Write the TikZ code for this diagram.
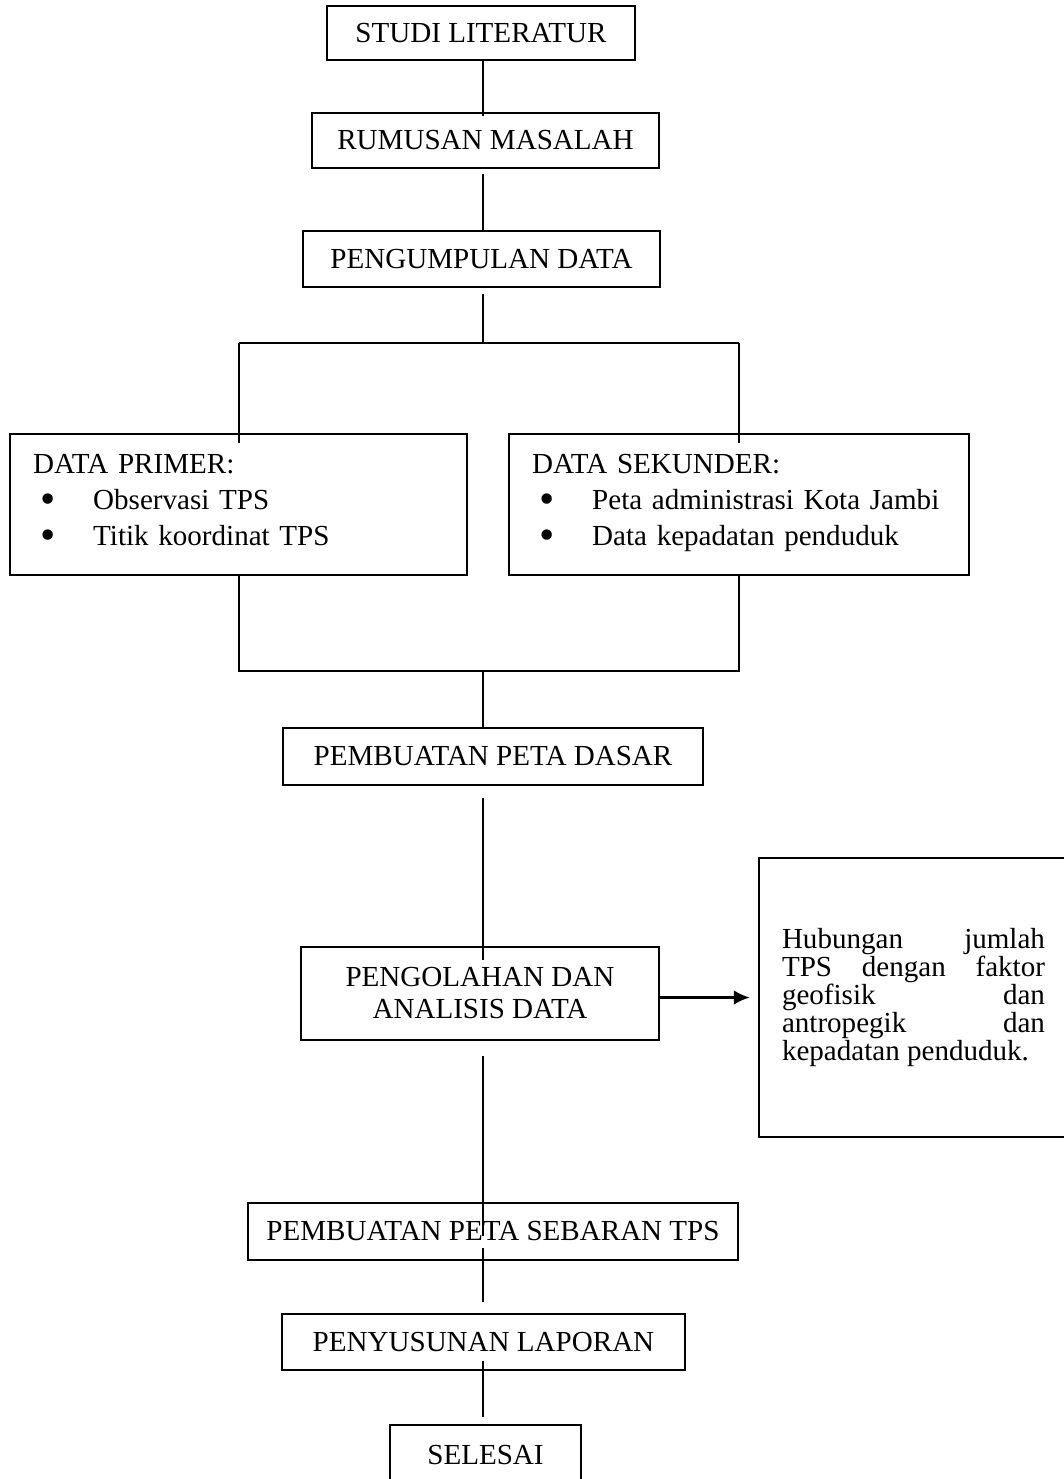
\documentclass[tikz,border=0pt]{standalone}
\usepackage{fontspec}
\setmainfont{Liberation Serif}
\usetikzlibrary{arrows.meta}
\newcommand{\tpsitem}[1]{\\\hspace*{5.5pt}\makebox[39.5pt][l]{\raisebox{-3pt}{\scalebox{1.5}{\textbullet}}}#1}
\tikzset{
  flowbox/.style={draw, line width=1.8pt, inner sep=0pt, align=center},
  databox/.style={draw, line width=1.8pt, anchor=north west, inner xsep=17.25pt, inner ysep=15pt,
    text width=308.25pt, align=left, text depth=61pt, font=\fontsize{21.8}{27}\selectfont},
  hasilbox/.style={draw, line width=1.8pt, text width=197.25pt, align=justify,
    font=\fontsize{21.8}{21}\selectfont},
  link/.style={line width=1.3pt},
}
\begin{document}
\begin{tikzpicture}[x=0.75pt, y=-0.75pt, font=\fontsize{21.8}{24}\selectfont]
    \useasboundingbox (0,0) rectangle (1064,1479);
    \coordinate (axis) at (483,0);
    \coordinate (split) at (483,343);
    \coordinate (join) at (483,671);
    % tahap awal
    \node[flowbox, minimum width=231pt, minimum height=40.5pt] (studi) at (481,33) {STUDI LITERATUR};
    \node[flowbox, minimum width=260.25pt, minimum height=41.25pt] (rumusan) at (485.5,140.5) {RUMUSAN MASALAH};
    \node[flowbox, minimum width=267.75pt, minimum height=42pt] (kumpul) at (481.5,259) {PENGUMPULAN DATA};
    % data
    \node[databox, minimum width=342.75pt] (primer) at (9,433)
        {DATA PRIMER:\tpsitem{Observasi TPS}\tpsitem{Titik koordinat TPS}};
    \node[databox, minimum width=345pt, text width=310.5pt] (sekunder) at (508,433)
        {DATA SEKUNDER:\tpsitem{Peta administrasi Kota Jambi}\tpsitem{Data kepadatan penduduk}};
    % pengolahan
    \node[flowbox, minimum width=315pt, minimum height=42.75pt] (dasar) at (493,756.5) {PEMBUATAN PETA DASAR};
    \node[flowbox, minimum width=268.5pt, minimum height=69.75pt] (olah) at (480,993.5) {PENGOLAHAN DAN\\ANALISIS DATA};
    \node[hasilbox, minimum width=231.75pt, minimum height=209.25pt] (hasil) at (913.5,997.5)
        {Hubungan jumlah\linebreak TPS dengan faktor\linebreak geofisik dan\linebreak antropegik dan\linebreak kepadatan penduduk.};
    % tahap akhir
    \node[flowbox, minimum width=367.5pt, minimum height=42.75pt] (sebaran) at (493,1231.5) {PEMBUATAN PETA SEBARAN TPS};
    \node[flowbox, minimum width=302.25pt, minimum height=42pt] (laporan) at (483.5,1342) {PENYUSUNAN LAPORAN};
    \node[flowbox, minimum width=143.25pt, minimum height=45pt] (selesai) at (485.5,1455) {SELESAI};
    % garis
    \draw[link, shorten >=-3pt] (studi.south -| axis) -- (rumusan.north -| axis);
    \draw[link, shorten <=3.75pt] (rumusan.south -| axis) -- (kumpul.north -| axis);
    \draw[link, shorten <=4.5pt] (kumpul.south -| axis) -- (split);
    \draw[link] (primer.north |- split) -- (sekunder.north |- split);
    \draw[link, shorten >=-7.5pt] (primer.north |- split) -- (primer.north);
    \draw[link, shorten >=-7.5pt] (sekunder.north |- split) -- (sekunder.north);
    \draw[link] (primer.south) -- (primer.south |- join) -- (sekunder.south |- join) -- (sekunder.south);
    \draw[link] (join) -- (join |- dasar.north);
    \draw[link, shorten <=9pt, shorten >=-11pt] (dasar.south -| axis) -- (olah.north -| axis);
    \draw[link, line width=1.8pt, -{Latex[length=12pt,width=11pt]}, shorten >=6pt] (olah.east |- hasil.west) -- (hasil.west);
    \draw[link, shorten <=11pt, shorten >=-26pt] (olah.south -| axis) -- (sebaran.north -| axis);
    \draw[link, shorten <=-9.75pt, shorten >=8pt] (sebaran.south -| axis) -- (laporan.north -| axis);
    \draw[link, shorten <=-7.5pt, shorten >=5pt] (laporan.south -| axis) -- (selesai.north -| axis);
\end{tikzpicture}
\end{document}
